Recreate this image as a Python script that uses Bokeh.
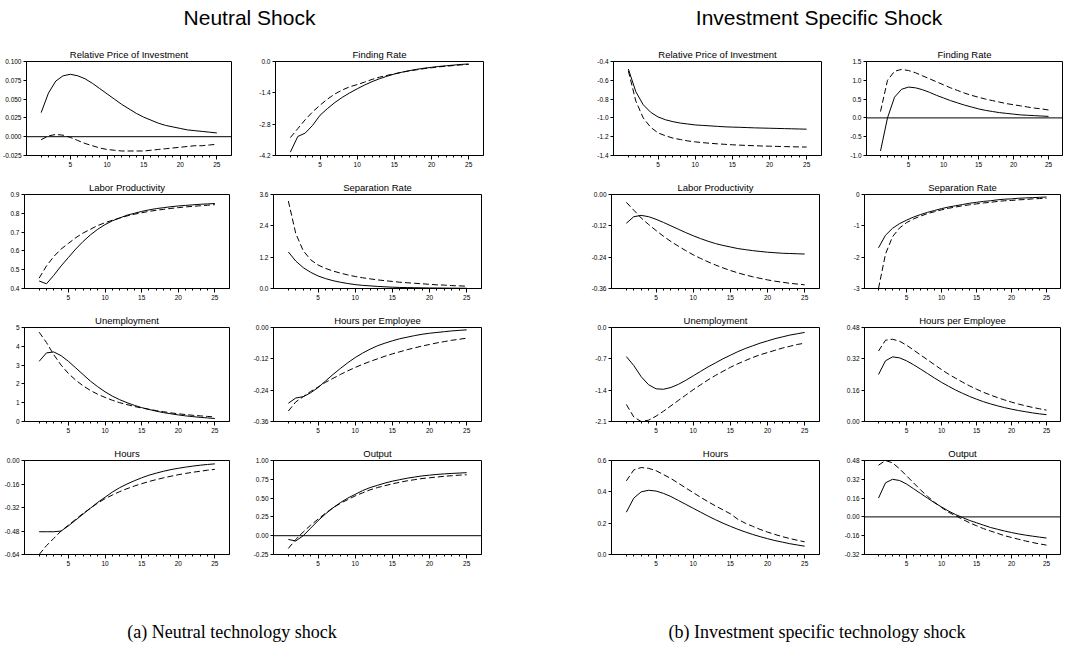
from bokeh.plotting import figure
from bokeh.models import Range1d, FixedTicker, NumeralTickFormatter, Span, Div, Spacer
from bokeh.layouts import row, column
from bokeh.embed import file_html
from bokeh.resources import INLINE

# ---------------- data ----------------
horizon = list(range(1, 26))
x_major_ticks = [5, 10, 15, 20, 25]

panel_titles = ["Relative Price of Investment", "Finding Rate", "Labor Productivity",
                "Separation Rate", "Unemployment", "Hours per Employee", "Hours", "Output"]

group_titles = ["Neutral Shock", "Investment Specific Shock"]
captions = ["(a) Neutral technology shock", "(b) Investment specific technology shock"]

# Neutral technology shock
n_relprice_solid = [0.032, 0.058, 0.074, 0.081, 0.083, 0.081, 0.077, 0.071, 0.064, 0.057, 0.050, 0.043, 0.037,
                    0.031, 0.026, 0.022, 0.018, 0.015, 0.013, 0.011, 0.009, 0.008, 0.007, 0.006, 0.005]
n_relprice_dash = [-0.004, 0.001, 0.003, 0.002, -0.001, -0.005, -0.009, -0.012, -0.015, -0.017, -0.018, -0.019,
                   -0.019, -0.019, -0.019, -0.018, -0.017, -0.016, -0.015, -0.014, -0.013, -0.012, -0.012, -0.011, -0.010]
n_relprice_ticks = [-0.025, 0.0, 0.025, 0.05, 0.075, 0.1]

n_finding_solid = [-4.05, -3.35, -3.2, -2.85, -2.4, -2.1, -1.83, -1.6, -1.4, -1.22, -1.05, -0.9, -0.77,
                   -0.66, -0.56, -0.48, -0.41, -0.35, -0.30, -0.26, -0.22, -0.19, -0.16, -0.13, -0.11]
n_finding_dash = [-3.4, -3.0, -2.6, -2.25, -1.95, -1.68, -1.45, -1.27, -1.13, -1.03, -0.92, -0.8, -0.7,
                  -0.62, -0.55, -0.48, -0.42, -0.37, -0.32, -0.28, -0.24, -0.21, -0.18, -0.15, -0.13]
n_finding_ticks = [-4.2, -2.8, -1.4, 0.0]

n_labprod_solid = [0.44, 0.425, 0.47, 0.52, 0.565, 0.61, 0.65, 0.685, 0.715, 0.74, 0.76, 0.775, 0.79, 0.80,
                   0.81, 0.818, 0.825, 0.83, 0.835, 0.839, 0.842, 0.845, 0.848, 0.85, 0.852]
n_labprod_dash = [0.455, 0.52, 0.57, 0.61, 0.64, 0.67, 0.695, 0.715, 0.735, 0.75, 0.763, 0.775, 0.786, 0.795,
                  0.803, 0.81, 0.816, 0.821, 0.826, 0.83, 0.834, 0.837, 0.84, 0.843, 0.846]
n_labprod_ticks = [0.4, 0.5, 0.6, 0.7, 0.8, 0.9]

n_sep_solid = [1.4, 1.05, 0.8, 0.62, 0.48, 0.38, 0.3, 0.24, 0.19, 0.15, 0.12, 0.1, 0.08, 0.065, 0.05, 0.04,
               0.035, 0.03, 0.025, 0.02, 0.018, 0.015, 0.013, 0.011, 0.01]
n_sep_dash = [3.35, 2.1, 1.45, 1.1, 0.9, 0.77, 0.67, 0.59, 0.52, 0.46, 0.41, 0.37, 0.33, 0.3, 0.27, 0.24,
              0.22, 0.2, 0.18, 0.16, 0.14, 0.13, 0.11, 0.1, 0.09]
n_sep_ticks = [0.0, 1.2, 2.4, 3.6]

n_unemp_solid = [3.2, 3.65, 3.7, 3.5, 3.2, 2.85, 2.5, 2.15, 1.85, 1.58, 1.35, 1.16, 1.0, 0.86, 0.74, 0.64,
                 0.55, 0.47, 0.41, 0.35, 0.3, 0.26, 0.22, 0.19, 0.16]
n_unemp_dash = [4.75, 4.2, 3.55, 3.0, 2.55, 2.2, 1.9, 1.65, 1.45, 1.28, 1.13, 1.0, 0.9, 0.8, 0.72, 0.65,
                0.58, 0.52, 0.46, 0.41, 0.37, 0.33, 0.3, 0.27, 0.24]
n_unemp_ticks = [0, 1, 2, 3, 4, 5]

n_hpe_solid = [-0.29, -0.27, -0.265, -0.25, -0.23, -0.205, -0.18, -0.157, -0.135, -0.115, -0.098, -0.083,
               -0.07, -0.06, -0.051, -0.043, -0.037, -0.031, -0.026, -0.022, -0.019, -0.016, -0.013, -0.011, -0.009]
n_hpe_dash = [-0.32, -0.285, -0.265, -0.245, -0.228, -0.21, -0.195, -0.18, -0.166, -0.153, -0.141, -0.13,
              -0.12, -0.11, -0.101, -0.093, -0.085, -0.078, -0.071, -0.065, -0.059, -0.054, -0.049, -0.045, -0.041]
n_hpe_ticks = [-0.36, -0.24, -0.12, 0.0]

n_hours_solid = [-0.485, -0.485, -0.485, -0.48, -0.445, -0.405, -0.365, -0.325, -0.285, -0.25, -0.215, -0.185,
                 -0.16, -0.138, -0.118, -0.1, -0.086, -0.073, -0.062, -0.053, -0.045, -0.038, -0.032, -0.027, -0.023]
n_hours_dash = [-0.64, -0.58, -0.53, -0.48, -0.44, -0.4, -0.36, -0.325, -0.29, -0.26, -0.235, -0.212, -0.192,
                -0.174, -0.158, -0.143, -0.13, -0.118, -0.107, -0.097, -0.088, -0.08, -0.073, -0.066, -0.06]
n_hours_ticks = [-0.64, -0.48, -0.32, -0.16, 0.0]

n_output_solid = [-0.05, -0.07, 0.0, 0.1, 0.2, 0.29, 0.37, 0.44, 0.5, 0.55, 0.6, 0.64, 0.67, 0.7, 0.725,
                  0.745, 0.765, 0.78, 0.795, 0.805, 0.815, 0.822, 0.828, 0.833, 0.838]
n_output_dash = [-0.17, -0.05, 0.05, 0.14, 0.22, 0.3, 0.37, 0.43, 0.48, 0.53, 0.57, 0.61, 0.64, 0.665, 0.69,
                 0.71, 0.73, 0.745, 0.76, 0.77, 0.78, 0.79, 0.798, 0.805, 0.81]
n_output_ticks = [-0.25, 0.0, 0.25, 0.5, 0.75, 1.0]

# Investment specific technology shock
i_relprice_solid = [-0.48, -0.72, -0.86, -0.94, -0.99, -1.02, -1.04, -1.055, -1.065, -1.075, -1.08, -1.085,
                    -1.09, -1.095, -1.098, -1.1, -1.103, -1.106, -1.108, -1.11, -1.112, -1.114, -1.116, -1.118, -1.12]
i_relprice_dash = [-0.5, -0.82, -1.0, -1.1, -1.16, -1.19, -1.215, -1.23, -1.245, -1.255, -1.263, -1.27, -1.276,
                   -1.281, -1.286, -1.29, -1.293, -1.296, -1.299, -1.301, -1.303, -1.305, -1.307, -1.309, -1.31]
i_relprice_ticks = [-1.4, -1.2, -1.0, -0.8, -0.6, -0.4]

i_finding_solid = [-0.88, 0.0, 0.55, 0.76, 0.82, 0.8, 0.75, 0.68, 0.6, 0.53, 0.46, 0.4, 0.34, 0.29, 0.24,
                   0.2, 0.17, 0.14, 0.12, 0.1, 0.08, 0.07, 0.06, 0.05, 0.04]
i_finding_dash = [0.17, 1.0, 1.24, 1.29, 1.26, 1.2, 1.12, 1.04, 0.96, 0.88, 0.8, 0.73, 0.66, 0.6, 0.55, 0.5,
                  0.46, 0.42, 0.38, 0.35, 0.32, 0.29, 0.26, 0.24, 0.21]
i_finding_ticks = [-1.0, -0.5, 0.0, 0.5, 1.0, 1.5]

i_labprod_solid = [-0.11, -0.085, -0.08, -0.085, -0.095, -0.107, -0.12, -0.133, -0.146, -0.158, -0.169, -0.179,
                   -0.188, -0.195, -0.201, -0.207, -0.211, -0.215, -0.218, -0.221, -0.223, -0.225, -0.226, -0.227, -0.228]
i_labprod_dash = [-0.03, -0.06, -0.09, -0.115, -0.138, -0.16, -0.18, -0.198, -0.215, -0.231, -0.245, -0.258,
                  -0.27, -0.281, -0.291, -0.3, -0.308, -0.315, -0.321, -0.327, -0.332, -0.336, -0.34, -0.343, -0.346]
i_labprod_ticks = [-0.36, -0.24, -0.12, 0.0]

i_sep_solid = [-1.7, -1.3, -1.08, -0.93, -0.82, -0.72, -0.64, -0.57, -0.51, -0.45, -0.4, -0.36, -0.32, -0.28,
               -0.25, -0.22, -0.2, -0.17, -0.15, -0.14, -0.12, -0.11, -0.1, -0.09, -0.08]
i_sep_dash = [-3.0, -1.9, -1.35, -1.07, -0.9, -0.78, -0.69, -0.61, -0.55, -0.49, -0.44, -0.4, -0.36, -0.33,
              -0.3, -0.27, -0.25, -0.22, -0.2, -0.19, -0.17, -0.16, -0.14, -0.13, -0.12]
i_sep_ticks = [-3, -2, -1, 0]

i_unemp_solid = [-0.65, -0.85, -1.1, -1.28, -1.37, -1.38, -1.34, -1.27, -1.18, -1.08, -0.98, -0.88, -0.79,
                 -0.7, -0.62, -0.54, -0.47, -0.41, -0.35, -0.3, -0.25, -0.21, -0.17, -0.14, -0.11]
i_unemp_dash = [-1.72, -2.0, -2.1, -2.07, -1.98, -1.87, -1.75, -1.63, -1.51, -1.39, -1.28, -1.17, -1.07, -0.98,
                -0.89, -0.81, -0.74, -0.67, -0.61, -0.56, -0.51, -0.46, -0.42, -0.38, -0.35]
i_unemp_ticks = [-2.1, -1.4, -0.7, 0.0]

i_hpe_solid = [0.24, 0.31, 0.33, 0.325, 0.31, 0.29, 0.268, 0.245, 0.222, 0.2, 0.18, 0.161, 0.144, 0.128,
               0.114, 0.101, 0.09, 0.08, 0.071, 0.063, 0.056, 0.05, 0.044, 0.039, 0.035]
i_hpe_dash = [0.36, 0.415, 0.42, 0.41, 0.39, 0.365, 0.34, 0.315, 0.29, 0.265, 0.242, 0.221, 0.201, 0.182,
              0.165, 0.149, 0.135, 0.122, 0.11, 0.099, 0.089, 0.08, 0.072, 0.065, 0.058]
i_hpe_ticks = [0.0, 0.16, 0.32, 0.48]

i_hours_solid = [0.27, 0.36, 0.4, 0.41, 0.405, 0.39, 0.37, 0.345, 0.32, 0.295, 0.27, 0.245, 0.222, 0.2, 0.18,
                 0.161, 0.144, 0.128, 0.114, 0.101, 0.089, 0.079, 0.069, 0.061, 0.053]
i_hours_dash = [0.47, 0.54, 0.555, 0.55, 0.535, 0.51, 0.485, 0.455, 0.425, 0.395, 0.365, 0.337, 0.31, 0.285,
                0.26, 0.225, 0.2, 0.18, 0.16, 0.143, 0.128, 0.114, 0.102, 0.091, 0.081]
i_hours_ticks = [0.0, 0.2, 0.4, 0.6]

i_output_solid = [0.16, 0.29, 0.32, 0.31, 0.28, 0.24, 0.2, 0.16, 0.12, 0.085, 0.05, 0.02, -0.005, -0.03, -0.05,
                  -0.07, -0.09, -0.105, -0.12, -0.133, -0.145, -0.155, -0.164, -0.172, -0.18]
i_output_dash = [0.44, 0.48, 0.46, 0.41, 0.35, 0.29, 0.23, 0.175, 0.125, 0.08, 0.04, 0.01, -0.02, -0.05,
                 -0.075, -0.1, -0.12, -0.14, -0.16, -0.175, -0.19, -0.205, -0.218, -0.23, -0.24]
i_output_ticks = [-0.32, -0.16, 0.0, 0.16, 0.32, 0.48]

neutral = [
    (n_relprice_solid, n_relprice_dash, n_relprice_ticks, "0.000"),
    (n_finding_solid, n_finding_dash, n_finding_ticks, "0.0"),
    (n_labprod_solid, n_labprod_dash, n_labprod_ticks, "0.0"),
    (n_sep_solid, n_sep_dash, n_sep_ticks, "0.0"),
    (n_unemp_solid, n_unemp_dash, n_unemp_ticks, "0"),
    (n_hpe_solid, n_hpe_dash, n_hpe_ticks, "0.00"),
    (n_hours_solid, n_hours_dash, n_hours_ticks, "0.00"),
    (n_output_solid, n_output_dash, n_output_ticks, "0.00"),
]
invest = [
    (i_relprice_solid, i_relprice_dash, i_relprice_ticks, "0.0"),
    (i_finding_solid, i_finding_dash, i_finding_ticks, "0.0"),
    (i_labprod_solid, i_labprod_dash, i_labprod_ticks, "0.00"),
    (i_sep_solid, i_sep_dash, i_sep_ticks, "0"),
    (i_unemp_solid, i_unemp_dash, i_unemp_ticks, "0.0"),
    (i_hpe_solid, i_hpe_dash, i_hpe_ticks, "0.00"),
    (i_hours_solid, i_hours_dash, i_hours_ticks, "0.0"),
    (i_output_solid, i_output_dash, i_output_ticks, "0.00"),
]

FONT = "Liberation Sans"


def make_panel(title, solid, dash, ticks, fmt, fw, bl, br):
    p = figure(frame_width=fw, frame_height=94,
               x_range=Range1d(-1, 27), y_range=Range1d(ticks[0], ticks[-1]),
               output_backend="svg", toolbar_location=None,
               min_border_left=bl, min_border_right=br, min_border_top=19, min_border_bottom=20)
    p.title.text = title
    p.title.align = "center"
    p.title.text_font = FONT
    p.title.text_font_size = "9.5px"
    p.title.text_font_style = "normal"
    p.title.text_color = "black"
    p.title.standoff = 4
    p.xgrid.visible = False
    p.ygrid.visible = False
    p.outline_line_color = "black"
    p.outline_line_width = 1
    p.background_fill_color = "white"
    p.border_fill_color = "white"

    xa = p.xaxis[0]
    xa.ticker = FixedTicker(ticks=x_major_ticks, minor_ticks=horizon)
    xa.major_tick_in = 0
    xa.major_tick_out = 4
    xa.minor_tick_in = 0
    xa.minor_tick_out = 2
    xa.major_label_standoff = 2
    ya = p.yaxis[0]
    ya.ticker = FixedTicker(ticks=ticks, minor_ticks=[])
    ya.formatter = NumeralTickFormatter(format=fmt)
    ya.major_tick_in = 0
    ya.major_tick_out = 3
    ya.minor_tick_in = 0
    ya.minor_tick_out = 0
    ya.major_label_standoff = 2
    for ax in (xa, ya):
        ax.axis_line_color = "black"
        ax.major_tick_line_color = "black"
        ax.minor_tick_line_color = "black"
        ax.major_label_text_font = FONT
        ax.major_label_text_font_size = "6.5px"
        ax.major_label_text_color = "black"

    p.add_layout(Span(location=0, dimension="width", line_color="black", line_width=1))
    p.line(horizon, solid, line_color="black", line_width=1)
    p.line(horizon, dash, line_color="black", line_width=1, line_dash="6 3")
    return p


# column geometry: (frame width, min border left, min border right)
geom = [(205, 24, 8), (208, 36, 8), (208, 39, 8), (196, 37, 1)]

rows = []
for r in range(4):
    cells = []
    for gi, group in enumerate((neutral, invest)):
        for c in range(2):
            k = r * 2 + c
            solid, dash, ticks, fmt = group[k]
            fw, bl, br = geom[gi * 2 + c]
            cells.append(make_panel(panel_titles[k], solid, dash, ticks, fmt, fw, bl, br))
    rows.append(row(cells[0], cells[1], Spacer(width=83, height=10), cells[2], cells[3]))


def head_div(txt, w, h, size, fam):
    return Div(text=f'<div style="width:{w}px;text-align:center;font-family:{fam};'
                    f'font-size:{size}px;line-height:{size + 4}px;color:black;">{txt}</div>',
               width=w, height=h)


header = row(head_div(group_titles[0], 489, 32, 21, "Liberation Sans"),
             Spacer(width=58, height=32),
             head_div(group_titles[1], 514, 32, 21, "Liberation Sans"))
caption = row(head_div(captions[0], 454, 26, 18, "Liberation Serif"),
              Spacer(width=89, height=26),
              head_div(captions[1], 518, 26, 18, "Liberation Serif"))

layout = column(header, *rows, Spacer(width=10, height=42), caption)

open("out.html", "w").write(file_html(layout, INLINE))
